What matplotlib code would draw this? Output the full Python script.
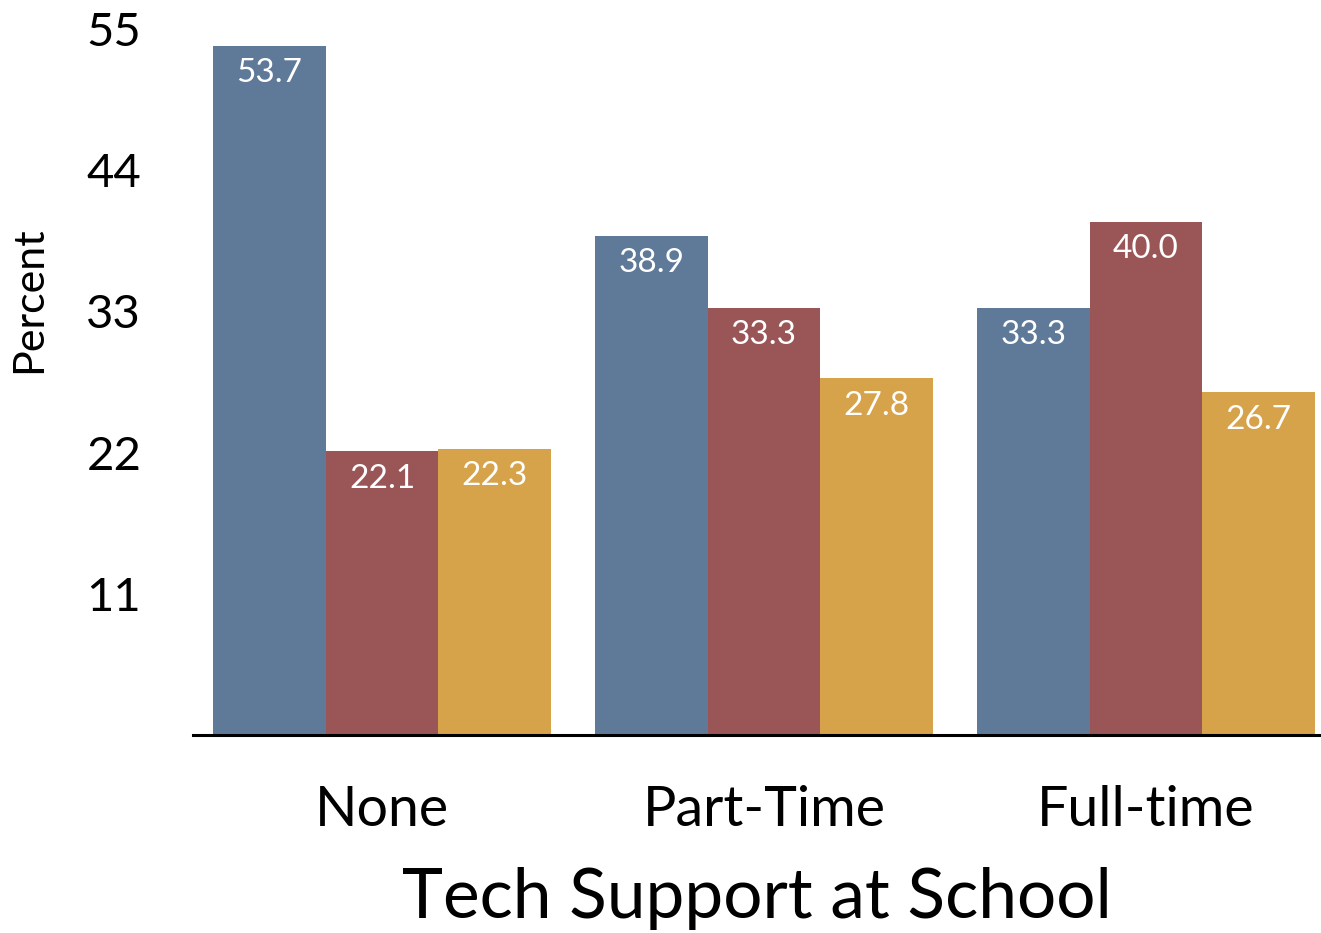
import matplotlib
matplotlib.use("Agg")
import matplotlib.pyplot as plt
import numpy as np

categories = ["None", "Part-Time", "Full-time"]
series_a = [53.7, 38.9, 33.3]   # blue
series_b = [22.1, 33.3, 40.0]   # red
series_c = [22.3, 27.8, 26.7]   # yellow
value_labels_a = ["53.7", "38.9", "33.3"]
value_labels_b = ["22.1", "33.3", "40.0"]
value_labels_c = ["22.3", "27.8", "26.7"]
y_ticks = [11, 22, 33, 44, 55]
x_title = "Tech Support at School"
y_title = "Percent"

colors = ["#5f7a98", "#9a5557", "#d6a24a"]

plt.rcParams['font.family'] = ['Lato', 'DejaVu Sans']

W, H = 1321, 933
fig = plt.figure(figsize=(W / 100, H / 100), dpi=100)
left_px, right_px = 193, 1321
bottom_px, top_px = 735, 29
ax = fig.add_axes([left_px / W, 1 - bottom_px / H, (right_px - left_px) / W, (bottom_px - top_px) / H])

x = np.arange(len(categories))
w = 0.2945
ax.set_xlim(-0.4948, 2.458)
ax.set_ylim(0, 55)

for i, (vals, labs) in enumerate([(series_a, value_labels_a), (series_b, value_labels_b), (series_c, value_labels_c)]):
    xs = x + (i - 1) * w
    ax.bar(xs, vals, width=w, color=colors[i], linewidth=0, clip_on=False, zorder=2)
    for xi, v, lab in zip(xs, vals, labs):
        ax.annotate(lab, xy=(xi, v), xytext=(0, -9), textcoords="offset points",
                    ha="center", va="top", color="white", fontsize=24, zorder=3,
                    annotation_clip=False)

for s in ["top", "right", "left"]:
    ax.spines[s].set_visible(False)
ax.spines["bottom"].set_linewidth(2.2)
ax.spines["bottom"].set_color("black")
ax.spines["bottom"].set_zorder(4)

ax.set_yticks(y_ticks)
ax.set_yticklabels([str(t) for t in y_ticks], fontsize=34)
ax.tick_params(axis="y", length=0, pad=57)
for lab in ax.get_yticklabels():
    lab.set_horizontalalignment("center")

ax.set_xticks(x)
ax.set_xticklabels(categories, fontsize=40)
ax.tick_params(axis="x", length=0, pad=36)

ax.set_xlabel(x_title, fontsize=50, labelpad=22)
ax.set_ylabel(y_title, fontsize=31, labelpad=26)
ax.yaxis.set_label_coords(-0.128, 0.616)

fig.savefig("out.png", dpi=100)
